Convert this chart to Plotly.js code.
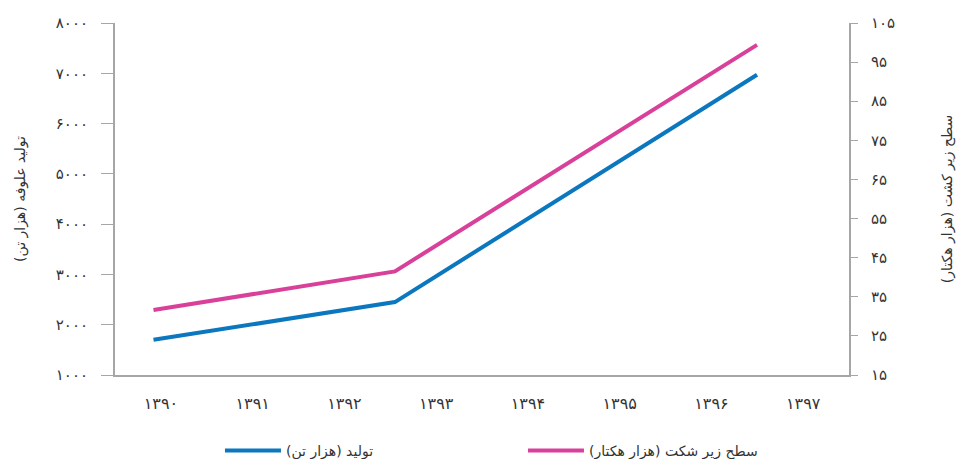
<!DOCTYPE html>
<html>
<head>
<meta charset="utf-8">
<script src="https://cdn.plot.ly/plotly-3.0.1.min.js"></script>
<style>html,body{margin:0;padding:0;background:#fff;}#chart{width:962px;height:459px;}</style>
</head>
<body>
<div id="chart"></div>
<script>
// Category axis (years) and tick labels
const yearTicks = [1390, 1391, 1392, 1393, 1394, 1395, 1396, 1397];
const yearLabels = ['۱۳۹۰', '۱۳۹۱', '۱۳۹۲', '۱۳۹۳', '۱۳۹۴', '۱۳۹۵', '۱۳۹۶', '۱۳۹۷'];

// Data points (years as plotted)
const pointYears = [1390, 1392, 1395];
const production = [1700, 2450, 6970];      // thousand tonnes (left axis)
const cultivatedArea = [31.6, 41.5, 99.4];  // thousand hectares (right axis)

// Left axis ticks
const leftTicks = [1000, 2000, 3000, 4000, 5000, 6000, 7000, 8000];
const leftLabels = ['۱۰۰۰', '۲۰۰۰', '۳۰۰۰', '۴۰۰۰', '۵۰۰۰', '۶۰۰۰', '۷۰۰۰', '۸۰۰۰'];

// Right axis ticks
const rightTicks = [15, 25, 35, 45, 55, 65, 75, 85, 95, 105];
const rightLabels = ['۱۵', '۲۵', '۳۵', '۴۵', '۵۵', '۶۵', '۷۵', '۸۵', '۹۵', '۱۰۵'];

// Texts
const RLM = '\u200F';
const nameProduction = RLM + 'تولید (هزار تن)' + RLM;
const nameArea = RLM + 'سطح زیر شکت (هزار هکتار)' + RLM;
const leftTitle = RLM + 'تولید علوفه (هزار تن)' + RLM;
const rightTitle = RLM + 'سطح زیر کشت (هزار هکتار)' + RLM;

const FONT = 'DejaVu Sans, sans-serif';
const TXT = '#333333';
const AX = '#a6a6a6';

const traces = [
  {
    // helper so the labelled year axis is drawn
    x: yearTicks, y: yearTicks.map(() => null),
    type: 'scatter', mode: 'lines', xaxis: 'x', yaxis: 'y',
    showlegend: false, hoverinfo: 'skip'
  },
  {
    x: pointYears, y: production, name: nameProduction,
    type: 'scatter', mode: 'lines', xaxis: 'x2', yaxis: 'y',
    line: {color: '#0a77bf', width: 4}
  },
  {
    x: pointYears, y: cultivatedArea, name: nameArea,
    type: 'scatter', mode: 'lines', xaxis: 'x2', yaxis: 'y2',
    line: {color: '#d8409a', width: 4}
  }
];

const layout = {
  width: 962, height: 459,
  margin: {l: 115, r: 113, t: 23, b: 84, autoexpand: false},
  paper_bgcolor: '#fff', plot_bgcolor: '#fff',
  font: {family: FONT, color: TXT, size: 14},
  showlegend: true,
  legend: {
    orientation: 'h', x: 0.143, xanchor: 'left', y: -0.17, yanchor: 'top',
    font: {family: FONT, size: 14, color: TXT},
    itemwidth: 56, entrywidthmode: 'pixels', entrywidth: 232,
    traceorder: 'normal'
  },
  xaxis: {
    type: 'linear', range: [1389.5, 1397.5],
    tickmode: 'array', tickvals: yearTicks, ticktext: yearLabels,
    showgrid: false, zeroline: false,
    showline: true, linecolor: AX, linewidth: 2,
    ticks: '', ticklabelstandoff: 13,
    tickfont: {family: FONT, size: 16, color: TXT}
  },
  xaxis2: {
    type: 'linear', overlaying: 'x', visible: false,
    range: [1389.681, 1395.762]
  },
  yaxis: {
    range: [1000, 8000],
    tickmode: 'array', tickvals: leftTicks, ticktext: leftLabels,
    showgrid: false, zeroline: false,
    showline: true, linecolor: AX, linewidth: 2,
    ticks: 'outside', ticklen: 12, tickcolor: AX, tickwidth: 1,
    ticklabelstandoff: 10,
    tickfont: {family: FONT, size: 15, color: TXT},
    title: {text: leftTitle, font: {family: FONT, size: 14, color: TXT}, standoff: 27}
  },
  yaxis2: {
    overlaying: 'y', side: 'right',
    range: [15, 105],
    tickmode: 'array', tickvals: rightTicks, ticktext: rightLabels,
    showgrid: false, zeroline: false,
    showline: true, linecolor: AX, linewidth: 2,
    ticks: 'outside', ticklen: 7, tickcolor: AX, tickwidth: 1,
    ticklabelstandoff: 10,
    tickfont: {family: FONT, size: 15, color: TXT},
    title: {text: rightTitle, font: {family: FONT, size: 14, color: TXT}, standoff: 48}
  }
};

Plotly.newPlot('chart', traces, layout, {displayModeBar: false, responsive: false});
</script>
</body>
</html>
